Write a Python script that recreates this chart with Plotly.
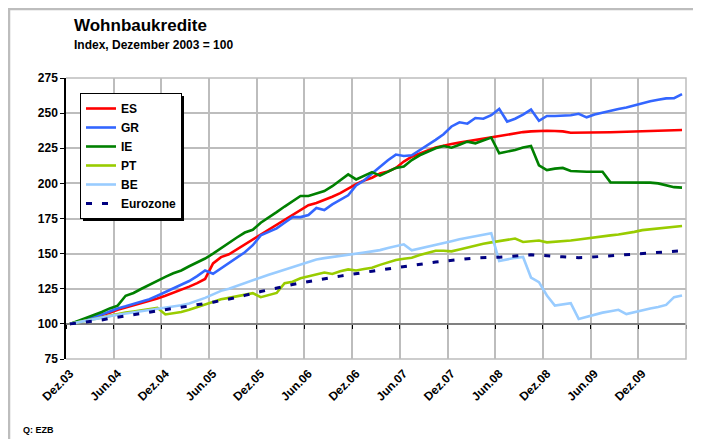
import plotly.graph_objects as go

# ---------------- data ----------------
MONTH_ABBR = ["Jan", "Feb", "Mär", "Apr", "Mai", "Jun", "Jul", "Aug", "Sep", "Okt", "Nov", "Dez"]
MONTHS = ["Dez.03"] + [f"{m}.{y:02d}" for y in range(4, 11) for m in MONTH_ABBR][:77]

TICK_LABELS = ["Dez.03", "Jun.04", "Dez.04", "Jun.05", "Dez.05", "Jun.06", "Dez.06",
               "Jun.07", "Dez.07", "Jun.08", "Dez.08", "Jun.09", "Dez.09"]

ES = [100, 101.5, 103, 104.5, 106, 108, 110, 111.5, 113, 114.8, 116.5, 118, 120, 122, 124, 126.5,
      129, 132, 143, 147.5, 149.5, 153, 156.5, 159.5, 163, 166.5, 170, 173.5, 177, 181, 184.5, 186,
      188, 190.5, 193, 196.5, 199.5, 202, 204, 207, 208.5, 211, 215.5, 219, 221.5, 223.5, 225.5, 227,
      228, 229, 230, 231, 232, 233, 234, 235, 235.8, 236.5, 237, 237.5, 237.5, 237.3, 237, 236, 236,
      236, 236, 236.2, 236.4, 236.6, 236.8, 237, 237, 237, 237.2, 237.4, 237.6, 238]

GR = [100, 101.6, 103.2, 104.8, 106.6, 108.8, 111, 112.5, 114, 115.5, 117.5, 120, 122.5, 125, 127.5,
      130.5, 134, 138, 135.7, 139.5, 143.5, 147.5, 151, 156, 163, 165.5, 168, 172, 176, 176, 177.5,
      182.5, 181, 185, 188.5, 191.5, 198.5, 202, 207, 212, 216.5, 220.5, 219.5, 220, 223.5, 227.5,
      231, 235, 240.5, 243.5, 242.5, 246.5, 246, 248.5, 253, 244, 246, 249, 252.5, 244.5, 248, 248,
      248, 248.5, 249.5, 247, 249, 250.5, 251.5, 253, 254, 255.5, 257.5, 258.5, 259.5, 260.5, 260.7,
      263.5]

IE = [100, 102, 104, 106.5, 108.5, 111, 113, 120, 122, 125, 128, 131, 133.5, 136, 138, 141, 143.5,
      146.5, 150, 154, 157.5, 161.5, 165, 167, 172, 175.5, 179.5, 183.5, 187.5, 191, 191, 192.8,
      194.5, 198, 202, 206.4, 202.8, 205.5, 208, 205.5, 208.5, 211, 212, 216.6, 220, 222.6, 225,
      226.6, 225.4, 227.5, 229.7, 228.5, 230.5, 232.6, 221.4, 222.5, 223.8, 225.5, 226.6, 212.9,
      209.5, 210.5, 211, 208.8, 208.3, 208.3, 208.3, 208.3, 200.7, 200.7, 200.7, 200.7, 200.7,
      200.5, 200, 198.5, 197.3, 197]

PT = [100, 101.2, 102.4, 103.6, 104.8, 106, 107.2, 108, 108.8, 109.8, 110.7, 111.4, 106.7, 107.5,
      108.5, 110, 112, 113.5, 115.5, 117.5, 118.5, 119.5, 121, 121.9, 119, 120.5, 122, 129, 130,
      132.5, 134, 135.5, 136.5, 135.5, 137.5, 138.8, 138, 139, 140, 142, 144, 145.5, 146.4, 147, 149,
      150.5, 152, 152, 151.6, 153, 154.5, 155.9, 157, 158, 158.8, 159.8, 160.7, 158.3, 158.8, 159.3,
      158, 158.3, 158.5, 159.3, 160, 160.8, 161.8, 162.4, 163, 163.6, 164.3, 165.5, 166.7, 167.2,
      167.8, 168.5, 169, 169.7]

BE = [100, 101.2, 102.4, 103.5, 104.5, 105.5, 106.5, 107.3, 108.1, 108.9, 109.7, 110.5, 111.3,
      112.3, 113.3, 114.5, 116.3, 118.5, 121, 123.5, 125, 127, 129, 131.5, 133.5, 135, 136.8, 138.5,
      140.5, 142.3, 144, 145.8, 146.8, 147.5, 148.2, 149.2, 150, 150.8, 151.6, 152.5, 154, 155.5,
      156.6, 152.3, 153.5, 155, 156.4, 157.6, 158.8, 160.2, 161.3, 162.3, 163.4, 164.5, 144.7, 146,
      147, 147.6, 133, 129.7, 120.2, 113, 114, 114.7, 103.5, 105, 107, 108, 109, 110, 107, 108.5,
      110, 111, 112, 113.5, 119, 120.2]

EUROZONE = [100, 100.6, 101.1, 101.8, 102.8, 103.9, 104.8, 105.6, 106.4, 107.3, 108.2, 109, 109.8,
            110.7, 111.5, 112.4, 113.3, 114.3, 115.4, 116.6, 117.6, 118.8, 120.3, 121.9, 123, 124.2,
            125.6, 127, 128, 129.1, 130.2, 131.3, 132.2, 133.1, 134, 135, 135.8, 136.7, 137.5, 138.3,
            139.2, 140.1, 140.9, 141.6, 142.4, 143.2, 144, 144.7, 145.4, 145.9, 146.4, 146.9, 147.4,
            147.4, 147.5, 147.9, 148.4, 148.8, 149.2, 148.9, 148.2, 148, 147.7, 147.3, 147.1, 147.3,
            147.7, 148.2, 148.6, 149, 149.4, 149.8, 150.3, 150.8, 151.2, 151.5, 151.7, 152]

SERIES = [
    ("ES", ES, "#FF0000", "solid"),
    ("GR", GR, "#3366FF", "solid"),
    ("IE", IE, "#008000", "solid"),
    ("PT", PT, "#99CC00", "solid"),
    ("BE", BE, "#99CCFF", "solid"),
    ("Eurozone", EUROZONE, "#000080", "6px,10px"),
]

Y_MIN, Y_MAX, Y_CROSS = 75, 275, 100

# ---------------- geometry ----------------
# the page body has an 8px default margin, so the figure is placed at (8, 8)
OFF = 8
W, H = 701 - OFF, 439 - OFF
PLOT_L, PLOT_R, PLOT_T, PLOT_B = 66, 686, 78, 359      # target window pixels
ML, MT = PLOT_L - OFF, PLOT_T - OFF
MR, MB = W - (PLOT_R - OFF), H - (PLOT_B - OFF)
PW, PH = PLOT_R - PLOT_L, PLOT_B - PLOT_T
FONT = "Arial, Liberation Sans, sans-serif"
GRID = "#BDBDBD"


def px(xw):
    """window x pixel -> paper x"""
    return (xw - PLOT_L) / PW


def py(yw):
    """window y pixel -> paper y"""
    return (PLOT_B - yw) / PH


x_idx = list(range(len(MONTHS)))
tick_pos = [MONTHS.index(t) for t in TICK_LABELS]
boundaries = [i - 0.5 for i in range(0, len(MONTHS) + 1, 6)]
cross_pos = (Y_CROSS - Y_MIN) / (Y_MAX - Y_MIN)
cross_px = cross_pos * PH

fig = go.Figure()
for name, vals, color, dash in SERIES:
    fig.add_trace(go.Scatter(
        x=x_idx, y=vals, name=name, mode="lines",
        line=dict(color=color, width=3 if name == "Eurozone" else 2.6, dash=dash),
        hovertext=MONTHS,
    ))

shapes = []
# outer frame (left / top edges of the reference frame)
shapes.append(dict(type="rect", xref="paper", yref="paper",
                   x0=px(9), x1=px(710), y0=py(450), y1=py(9),
                   line=dict(color="#BDBDBD", width=2.5), fillcolor="rgba(0,0,0,0)", layer="above"))
# plot border (bottom, right, top)
shapes.append(dict(type="path", xref="paper", yref="paper", path="M0,0 L1,0 L1,1 L0,1",
                   line=dict(color=GRID, width=1.5), layer="above"))
# legend shadow
LEG_L, LEG_T, LEG_W, LEG_H = 80, 93, 101, 125
shapes.append(dict(type="rect", xref="paper", yref="paper",
                   x0=px(LEG_L + 3), x1=px(LEG_L + LEG_W + 3), y0=py(LEG_T + LEG_H + 3), y1=py(LEG_T + 3),
                   line=dict(width=0), fillcolor="#000000", layer="above"))

fig.update_layout(
    width=W, height=H,
    margin=dict(l=ML, r=MR, t=MT, b=MB, pad=0),
    paper_bgcolor="white", plot_bgcolor="white",
    font=dict(family=FONT, color="#000000"),
    showlegend=True,
    legend=dict(x=px(LEG_L), y=py(LEG_T), xanchor="left", yanchor="top",
                bgcolor="white", bordercolor="#000000", borderwidth=1,
                font=dict(size=12, family=FONT, color="#000000", weight="bold"),
                tracegroupgap=0, itemwidth=30),
    shapes=shapes,
    annotations=[
        dict(text="<b>Wohnbaukredite</b>", xref="paper", yref="paper", x=px(72), y=py(25),
             xanchor="left", yanchor="middle", showarrow=False, font=dict(size=17, family=FONT)),
        dict(text="<b>Index, Dezember 2003 = 100</b>", xref="paper", yref="paper", x=px(72), y=py(45),
             xanchor="left", yanchor="middle", showarrow=False, font=dict(size=12, family=FONT)),
        dict(text="<b>Q: EZB</b>", xref="paper", yref="paper", x=px(21), y=py(430),
             xanchor="left", yanchor="middle", showarrow=False, font=dict(size=9, family=FONT)),
    ],
)

# x axis crosses the value axis at 100 (as in the original), labels stay at the bottom
fig.update_xaxes(
    range=[-0.5, len(MONTHS) - 0.5], showgrid=False, zeroline=False,
    anchor="free", position=cross_pos,
    showline=True, linecolor="#808080", linewidth=2.2, layer="below traces",
    tickmode="array", tickvals=tick_pos, ticktext=TICK_LABELS, tickangle=-45,
    ticks="", ticklabelstandoff=int(round(cross_px)) + 2,
    tickfont=dict(size=12, family=FONT, weight="bold"),
    minor=dict(tickmode="array", tickvals=boundaries, showgrid=True, gridcolor=GRID,
               gridwidth=1.5, ticks="outside", ticklen=4, tickcolor="#000000", tickwidth=1),
)
fig.update_yaxes(
    range=[Y_MIN, Y_MAX], dtick=25, tick0=Y_MIN, showgrid=True, gridcolor=GRID, gridwidth=1.5,
    zeroline=False, showline=True, linecolor="#000000", linewidth=1.5,
    ticks="outside", ticklen=4, tickcolor="#000000",
    tickfont=dict(size=12, family=FONT, weight="bold"),
)

fig.write_html("out.html", config={"displayModeBar": False})
